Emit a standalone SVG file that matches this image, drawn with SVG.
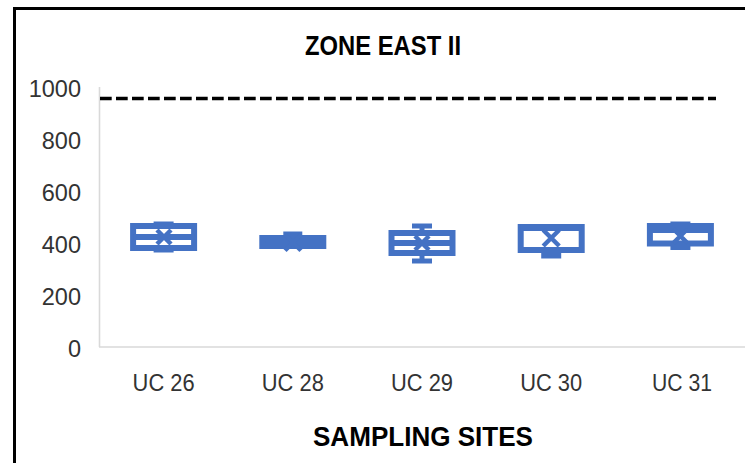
<svg xmlns="http://www.w3.org/2000/svg" width="745" height="463" viewBox="0 0 745 463">
  <style>
    .frame { fill: none; stroke: #000; stroke-width: 3; }
    .axis { stroke: #D9D9D9; stroke-width: 1.6; fill: none; }
    .limit { stroke: #000; stroke-width: 3.3; stroke-dasharray: 11.7 4.3; fill: none; }
    .box { fill: none; stroke: #4472C4; stroke-width: 6; }
    .solid { fill: #4472C4; stroke: #4472C4; stroke-width: 6; }
    .med { stroke: #4472C4; stroke-width: 6; }
    .cap { stroke: #4472C4; stroke-width: 5; }
    .stem { stroke: #4472C4; stroke-width: 5; }
    .mean { stroke: #4472C4; stroke-width: 4.5; fill: none; }
    .tick { font-family: "Liberation Sans", Arial, sans-serif; font-size: 23.5px; fill: #333; text-anchor: end; }
    .cat { font-family: "Liberation Sans", Arial, sans-serif; font-size: 24px; fill: #333; text-anchor: middle; }
    .title { font-family: "Liberation Sans", Arial, sans-serif; font-size: 27.5px; font-weight: bold; fill: #000; text-anchor: middle; }
  </style>

  <rect width="745" height="463" fill="#fff"/>
  <path class="frame" d="M14.5 463 V8.5 H745"/>

  <g id="title"><text class="title" x="383" y="55" textLength="156" lengthAdjust="spacingAndGlyphs">ZONE EAST II</text></g>

  <g id="y-axis">
    <line class="axis" x1="99.5" y1="87" x2="99.5" y2="347"/>
    <text class="tick" x="81" y="97">1000</text>
    <text class="tick" x="81" y="149">800</text>
    <text class="tick" x="81" y="201">600</text>
    <text class="tick" x="81" y="253">400</text>
    <text class="tick" x="81" y="305">200</text>
    <text class="tick" x="81" y="357">0</text>
  </g>

  <g id="x-axis">
    <line class="axis" x1="99" y1="347" x2="745" y2="347"/>
    <text class="cat" x="163.6" y="391" textLength="62" lengthAdjust="spacingAndGlyphs">UC 26</text>
    <text class="cat" x="292.8" y="391" textLength="62" lengthAdjust="spacingAndGlyphs">UC 28</text>
    <text class="cat" x="422" y="391" textLength="62" lengthAdjust="spacingAndGlyphs">UC 29</text>
    <text class="cat" x="551.2" y="391" textLength="62" lengthAdjust="spacingAndGlyphs">UC 30</text>
    <text class="cat" x="682" y="391" textLength="60" lengthAdjust="spacingAndGlyphs">UC 31</text>
    <text class="title" x="423" y="446" textLength="220" lengthAdjust="spacingAndGlyphs">SAMPLING SITES</text>
  </g>

  <g id="limit-line"><line class="limit" x1="100" y1="98.5" x2="716" y2="98.5"/></g>

  <g id="box-uc26">
    <line class="cap" x1="153.6" y1="224" x2="173.6" y2="224"/>
    <line class="cap" x1="153.6" y1="250" x2="173.6" y2="250"/>
    <rect class="box" x="133.1" y="226" width="61" height="22"/>
    <line class="med" x1="133.1" y1="237" x2="194.1" y2="237"/>
    <path class="mean" d="M157 230 L171 244 M171 230 L157 244"/>
  </g>

  <g id="box-uc28">
    <line class="cap" x1="283.3" y1="234" x2="302.3" y2="234"/>
    <rect class="solid" x="262.3" y="238" width="61" height="8"/>
    <path class="mean" d="M285 234.5 L301 250.5 M301 234.5 L285 250.5"/>
  </g>

  <g id="box-uc29">
    <line class="stem" x1="422" y1="226" x2="422" y2="233"/>
    <line class="stem" x1="422" y1="253" x2="422" y2="261"/>
    <line class="cap" x1="412" y1="226" x2="432" y2="226"/>
    <line class="cap" x1="412" y1="261" x2="432" y2="261"/>
    <rect class="box" x="391.5" y="233" width="61" height="20"/>
    <line class="med" x1="391.5" y1="243" x2="452.5" y2="243"/>
    <path class="mean" d="M415 236 L429 250 M429 236 L415 250"/>
  </g>

  <g id="box-uc30">
    <line class="stem" x1="551.2" y1="250" x2="551.2" y2="255.5"/>
    <line class="cap" x1="541.2" y1="255.5" x2="561.2" y2="255.5" style="stroke-width:6"/>
    <rect class="box" x="520.7" y="227" width="61" height="23"/>
    <line class="med" x1="520.7" y1="228" x2="581.7" y2="228"/>
    <path class="mean" d="M543.2 230 L559.2 246 M559.2 230 L543.2 246"/>
  </g>

  <g id="box-uc31">
    <line class="cap" x1="670.4" y1="224" x2="690.4" y2="224"/>
    <line class="cap" x1="670.4" y1="248" x2="690.4" y2="248" style="stroke-width:4"/>
    <rect class="box" x="649.9" y="226" width="61" height="17.5"/>
    <line class="med" x1="649.9" y1="230" x2="710.9" y2="230"/>
    <path class="mean" d="M673.4 229 L687.4 243 M687.4 229 L673.4 243"/>
  </g>

  <g id="connectors"></g>
</svg>
